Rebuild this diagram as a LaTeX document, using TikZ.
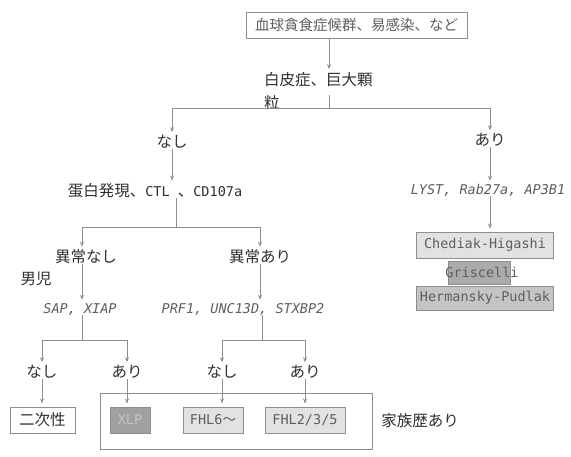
\documentclass[tikz,border=0pt]{standalone}
\usepackage{fontspec}
\setmainfont{Noto Sans CJK JP}
\newfontfamily\mono{DejaVu Sans Mono}
\usetikzlibrary{arrows.meta}
\definecolor{txt}{HTML}{2E2E2E}
\definecolor{gtxt}{HTML}{5E5E5E}
\definecolor{ln}{HTML}{8E8E8E}
\definecolor{fa}{HTML}{E2E2E2}
\definecolor{fb}{HTML}{ABABAB}
\definecolor{fc}{HTML}{C4C4C4}
\definecolor{fd}{HTML}{A0A0A0}
\begin{document}
\begin{tikzpicture}[x=1pt,y=-1pt,
  font=\fontsize{15.5}{23}\selectfont,
  lbl/.style={inner sep=0pt, text=txt},
  gene/.style={inner sep=0pt, text=gtxt, font=\mono\itshape\fontsize{13.5}{16}\selectfont},
  cbox/.style={draw=ln, line width=1pt, inner sep=0pt, minimum height=26pt, text=gtxt,
    font=\mono\fontsize{13.5}{16}\selectfont},
  plain/.style={draw=ln, line width=1pt},
  arr/.style={draw=ln, line width=1pt, -{Stealth[length=5pt,width=4pt]}, shorten >=3pt}]
\useasboundingbox (0,0) rectangle (571,456);

% top
\node[cbox, font=\fontsize{14.5}{16}\selectfont, text=gtxt, fill=white, minimum width=221pt] (top) at (356.5,25) {血球貪食症候群、易感染、など};
\node[lbl, anchor=north west, align=left] (alb) at (264,72) {白皮症、巨大顆\\粒};
\coordinate (c329) at (329,0);
\coordinate (j1top) at (329,95);
\coordinate (j1) at (329,108);
\coordinate (jL) at (172,108);
\coordinate (jR) at (490,108);
\draw[arr] (top.south -| c329) -- (alb.north -| c329);
\draw[plain] (j1top) -- (j1);
\draw[plain] (jL) -- (jR);

% left branch
\node[lbl] (nashi1) at (172,142) {なし};
\node[lbl] (tan) at (155,191) {蛋白発現、{\mono\fontsize{13.5}{16}\selectfont CTL }、{\mono\fontsize{13.5}{16}\selectfont CD107a}};
\draw[arr] (jL) -- (nashi1);
\draw[arr] (nashi1) -- (nashi1 |- tan.north);

\coordinate (c176) at (176,0);
\coordinate (j2) at (176,227);
\coordinate (j2L) at (82,227);
\coordinate (j2R) at (260,227);
\draw[plain] (tan.south -| c176) -- (j2);
\draw[plain] (j2L) -- (j2R);
\node[lbl] (ijn) at (86,257) {異常なし};
\node[lbl] (ija) at (260,257) {異常あり};
\draw[arr] (j2L) -- (j2L |- ijn.north);
\draw[arr] (j2R) -- (ija);
\node[lbl] (dan) at (36,279) {男児};
\node[gene] (sap) at (80,309) {SAP, XIAP};
\node[gene] (prf) at (243,309) {PRF1, UNC13D, STXBP2};
\draw[arr] (ijn.south -| j2L) -- (j2L |- sap.north);
\draw[arr] (ija) -- (ija |- prf.north);

% bottom brackets
\coordinate (c82) at (82,0);
\coordinate (c262) at (262,0);
\coordinate (j3) at (82,340);
\coordinate (j3L) at (42,340);
\coordinate (j3R) at (127,340);
\coordinate (j4) at (262,340);
\coordinate (j4L) at (222,340);
\coordinate (j4R) at (305,340);
\draw[plain] (sap.south -| c82) -- (j3);
\draw[plain] (j3L) -- (j3R);
\draw[plain] (prf.south -| c262) -- (j4);
\draw[plain] (j4L) -- (j4R);
\node[lbl] (n1) at (42,372) {なし};
\node[lbl] (a1) at (127,372) {あり};
\node[lbl] (n2) at (222,372) {なし};
\node[lbl] (a2) at (305,372) {あり};
\draw[arr] (j3L) -- (n1);
\draw[arr] (j3R) -- (a1);
\draw[arr] (j4L) -- (n2);
\draw[arr] (j4R) -- (a2);

\node[draw=ln, line width=1pt, minimum width=272pt, minimum height=56pt, inner sep=0pt] (fam) at (236,421) {};
\node[lbl] (famt) at (420,421) {家族歴あり};

\node[cbox, fill=white, minimum width=65pt, text=txt, font=\fontsize{15.5}{16}\selectfont] (jisei) at (42.5,420) {二次性};
\node[cbox, fill=fd, minimum width=40pt, text=fc] (xlp) at (130,420) {XLP};
\node[cbox, fill=fa, minimum width=60pt] (fhl6) at (213,420) {FHL6{\rmfamily ～}};
\node[cbox, fill=fa, minimum width=80pt] (fhl2) at (305,420) {FHL2/3/5};
\draw[arr] (n1) -- (n1 |- jisei.north);
\draw[arr] (a1) -- (a1 |- xlp.north);
\draw[arr] (n2) -- (n2 |- fhl6.north);
\draw[arr] (a2) -- (a2 |- fhl2.north);

% right branch
\node[lbl] (ari1) at (490,140) {あり};
\node[gene] (lyst) at (488,190) {LYST, Rab27a, AP3B1};
\draw[arr] (jR) -- (ari1);
\draw[arr] (ari1) -- (ari1 |- lyst.north);
\node[cbox, fill=fa, minimum width=137pt] (ch) at (485,245) {Chediak-Higashi};
\node[cbox, fill=fb, minimum width=62pt, minimum height=23pt] (gr) at (479,272.5) {};
\node[inner sep=0pt, text=gtxt, font=\mono\fontsize{13.5}{16}\selectfont] (grt) at (482,272.5) {Griscelli};
\node[cbox, fill=fc, minimum width=137pt, minimum height=24pt] (hp) at (485,298) {Hermansky-Pudlak};
\draw[arr] (lyst.south -| ari1) -- (ari1 |- ch.north);
\end{tikzpicture}
\end{document}
